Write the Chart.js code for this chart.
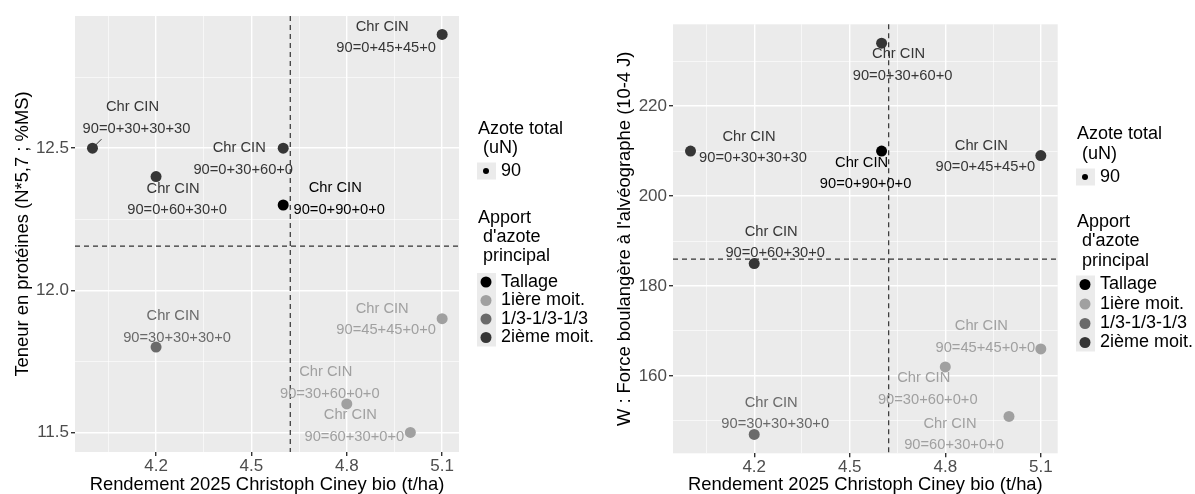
<!DOCTYPE html>
<html lang="fr">
<head>
<meta charset="UTF-8">
<title>Rendement 2025 Christoph Ciney bio</title>
<script src="https://cdn.jsdelivr.net/npm/chart.js"></script>
<style>
  body { margin: 0; background: #fff; }
  #wrap { position: relative; width: 1195px; height: 494px; }
  canvas { position: absolute; top: 0; }
  #gauche { left: 0; }
  #droite { left: 600px; }
</style>
</head>
<body>
<div id="wrap">
  <canvas id="gauche" width="600" height="494"></canvas>
  <canvas id="droite" width="595" height="494"></canvas>
</div>
<script>
// --- données ---
const site = 'Chr CIN';
const traitements = ['90=0+30+30+30', '90=0+60+30+0', '90=0+30+60+0', '90=0+90+0+0', '90=0+45+45+0',
                     '90=30+30+30+0', '90=30+60+0+0', '90=60+30+0+0', '90=45+45+0+0'];
const apport = ['2ième moit.', '2ième moit.', '2ième moit.', 'Tallage', '2ième moit.',
                '1/3-1/3-1/3', '1ière moit.', '1ière moit.', '1ière moit.'];
const rendement = [4.0, 4.2, 4.6, 4.6, 5.1, 4.2, 4.8, 5.0, 5.1];
const proteines = [12.5, 12.4, 12.5, 12.3, 12.9, 11.8, 11.6, 11.5, 11.9];
const forceW = [210, 185, 234, 210, 209, 147, 162, 151, 166];

const groupes = ['Tallage', '1ière moit.', '1/3-1/3-1/3', '2ième moit.'];
const azoteTotal = ['90'];

const xTicks = [4.2, 4.5, 4.8, 5.1];
const xMinor = [4.05, 4.35, 4.65, 4.95];
const protTicks = [11.5, 12.0, 12.5];
const protMinor = [11.75, 12.25, 12.75];
const forceTicks = [160, 180, 200, 220];
const forceMinor = [150, 170, 190, 210, 230];

// --- styles ---
const couleurs = {'Tallage': '#000000', '1ière moit.': '#a0a0a0', '1/3-1/3-1/3': '#6a6a6a', '2ième moit.': '#363636'};
const FONT = "'Liberation Sans', Arial, sans-serif";

// décalage (px) de l'étiquette par rapport au point : [dx, dy, segment dx, segment dy]
const decalagesProt = [[40, -41, 9, -9], [17, 12], [-44, 0], [52, -17], [-60, -8],
                       [17, -31], [-21, -32], [-60, -17], [-60, -10]];
const decalagesForce = [[58.5, -14.4], [17, -31.7], [17, 11], [-20, 11.6], [-59.5, -10],
                        [17, -31.7], [-21.5, 11], [-59, 7.3], [-59.5, -23]];

const moyenne = a => a.reduce((s, v) => s + v, 0) / a.length;
const contient = (arr, v) => arr.some(t => Math.abs(t - v) < 1e-6);

const fondPanneau = {
  id: 'fondPanneau',
  beforeDraw(chart) {
    const {ctx, chartArea: a} = chart;
    ctx.save();
    ctx.fillStyle = '#ebebeb';
    ctx.fillRect(a.left, a.top, a.right - a.left, a.bottom - a.top);
    ctx.restore();
  }
};

const moyennes = {
  id: 'moyennes',
  beforeDatasetsDraw(chart, args, opts) {
    const {ctx, chartArea: a, scales: {x, y}} = chart;
    const px = x.getPixelForValue(opts.x);
    const py = y.getPixelForValue(opts.y);
    ctx.save();
    ctx.strokeStyle = '#333';
    ctx.lineWidth = 1.2;
    ctx.setLineDash([5, 4]);
    ctx.beginPath();
    ctx.moveTo(px, a.top); ctx.lineTo(px, a.bottom);
    ctx.moveTo(a.left, py); ctx.lineTo(a.right, py);
    ctx.stroke();
    ctx.restore();
  }
};

const etiquettes = {
  id: 'etiquettes',
  afterDatasetsDraw(chart, args, opts) {
    const ctx = chart.ctx;
    ctx.save();
    ctx.font = '14.7px ' + FONT;
    ctx.textAlign = 'center';
    ctx.textBaseline = 'middle';
    chart.data.datasets.forEach((ds, di) => {
      chart.getDatasetMeta(di).data.forEach((pt, j) => {
        const i = ds.data[j].i;
        const d = opts.decalages[i];
        ctx.fillStyle = ds.backgroundColor;
        ctx.strokeStyle = ds.backgroundColor;
        ctx.fillText(site, pt.x + d[0], pt.y + d[1]);
        ctx.fillText(traitements[i], pt.x + d[0] + 4, pt.y + d[1] + 21.5);
        if (d.length > 2) {
          ctx.lineWidth = 1;
          ctx.beginPath();
          ctx.moveTo(pt.x + 1, pt.y - 1);
          ctx.lineTo(pt.x + d[2], pt.y + d[3]);
          ctx.stroke();
        }
      });
    });
    ctx.restore();
  }
};

const legendeGg = {
  id: 'legendeGg',
  afterDraw(chart, args, o) {
    const ctx = chart.ctx;
    const L = o.left;
    ctx.save();
    ctx.font = '18px ' + FONT;
    ctx.textBaseline = 'middle';
    ctx.textAlign = 'left';
    ctx.fillStyle = '#000';
    ctx.fillText('Azote total', L, o.t1[0]);
    ctx.fillText('(uN)', L + 5, o.t1[1]);
    ctx.fillStyle = '#ebebeb';
    ctx.fillRect(L - 1, o.k1 - 8.5, 19, 17);
    ctx.fillStyle = '#000';
    ctx.beginPath(); ctx.arc(L + 8, o.k1, 3, 0, Math.PI * 2); ctx.fill();
    ctx.fillText(azoteTotal[0], L + 23, o.k1);

    ctx.fillText('Apport', L, o.t2[0]);
    ctx.fillText("d'azote", L + 5, o.t2[1]);
    ctx.fillText('principal', L + 5, o.t2[2]);
    ctx.fillStyle = '#ebebeb';
    ctx.fillRect(L - 1, o.keys[0] - 9, 19, o.keys[3] - o.keys[0] + 18);
    groupes.forEach((g, k) => {
      ctx.fillStyle = couleurs[g];
      ctx.beginPath(); ctx.arc(L + 8, o.keys[k], 5.5, 0, Math.PI * 2); ctx.fill();
      ctx.fillStyle = '#000';
      ctx.fillText(g, L + 23, o.keys[k]);
    });
    ctx.restore();
  }
};

function axe(major, minor, min, max, fmt, titre, titrePad, taille) {
  return {
    type: 'linear',
    min: min, max: max,
    afterBuildTicks: s => {
      s.ticks = major.concat(minor).sort((a, b) => a - b).map(v => ({value: v}));
    },
    afterFit: s => {
      if (s.isHorizontal()) s.height = taille; else s.width = taille;
    },
    ticks: {
      autoSkip: false, maxRotation: 0, minRotation: 0,
      padding: 2,
      color: '#4d4d4d',
      font: {family: FONT, size: 17, lineHeight: 1},
      callback: v => contient(major, v) ? fmt(v) : ''
    },
    grid: {
      color: '#ffffff',
      lineWidth: c => c.tick && contient(major, c.tick.value) ? 1.4 : 0.6,
      tickColor: c => c.tick && contient(major, c.tick.value) ? '#333333' : 'rgba(0,0,0,0)',
      tickLength: 4,
      drawTicks: true
    },
    border: {display: false},
    title: {
      display: true, text: titre, color: '#000',
      font: {family: FONT, size: 18.4, lineHeight: 1},
      padding: titrePad
    }
  };
}

function graphique(id, yVals, yMajor, yMinor, yMin, yMax, yFmt, yTitre, g) {
  const datasets = groupes.map(grp => ({
    label: grp,
    data: rendement.map((x, i) => ({x: x, y: yVals[i], i: i})).filter(p => apport[p.i] === grp),
    backgroundColor: couleurs[grp],
    borderWidth: 0,
    pointRadius: 5.5,
    pointHoverRadius: 5.5
  }));
  return new Chart(document.getElementById(id), {
    type: 'scatter',
    data: {datasets: datasets},
    options: {
      responsive: false,
      animation: false,
      devicePixelRatio: 1,
      layout: {padding: {top: g.top, right: g.right, left: 0, bottom: 0}},
      scales: {
        x: axe(xTicks, xMinor, 3.945, 5.153, v => v.toFixed(1),
               'Rendement 2025 Christoph Ciney bio (t/ha)', {top: 0, bottom: 0}, g.xh),
        y: axe(yMajor, yMinor, yMin, yMax, yFmt, yTitre, {top: g.ytp, bottom: 0}, g.yw)
      },
      plugins: {
        legend: {display: false},
        tooltip: {enabled: false},
        moyennes: {x: moyenne(rendement), y: moyenne(yVals)},
        etiquettes: {decalages: g.decalages},
        legendeGg: g.legende
      }
    },
    plugins: [fondPanneau, moyennes, etiquettes, legendeGg]
  });
}

graphique('gauche', proteines, protTicks, protMinor, 11.431, 12.965, v => v.toFixed(1),
  'Teneur en protéines (N*5,7 ; %MS)',
  {top: 16, right: 141, xh: 42, yw: 75, ytp: 14, decalages: decalagesProt,
   legende: {left: 478, t1: [129, 148.5], k1: 171, t2: [218, 237, 256], keys: [282, 300.5, 319, 337.5]}});

graphique('droite', forceW, forceTicks, forceMinor, 142.8, 238.2, v => String(v),
  "W : Force boulangère à l'alvéographe (10-4 J)",
  {top: 24.3, right: 137.3, xh: 40.7, yw: 73, ytp: 16, decalages: decalagesForce,
   legende: {left: 477, t1: [134, 154.5], k1: 177, t2: [222, 241.5, 261], keys: [284.5, 304, 323.5, 342.5]}});
</script>
</body>
</html>
